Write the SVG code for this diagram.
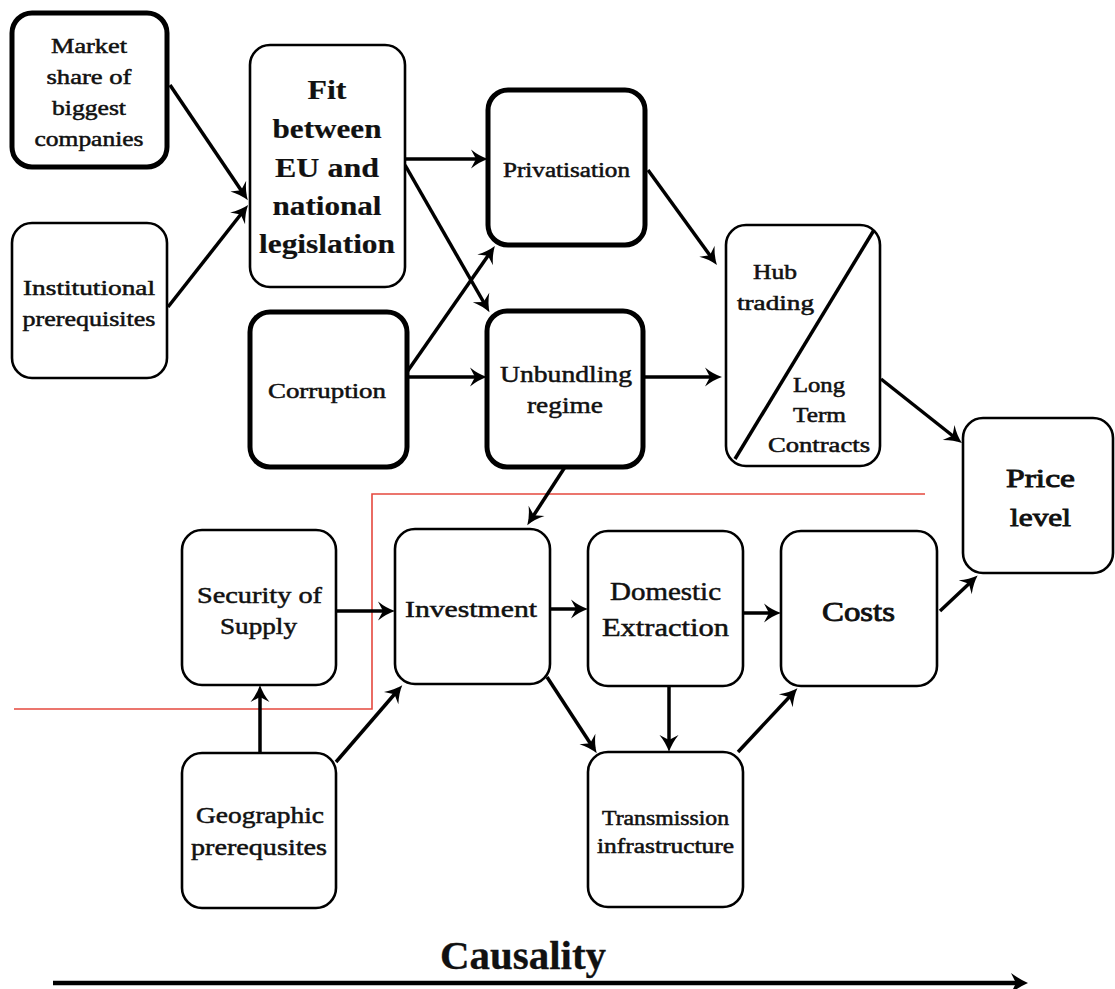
<svg xmlns="http://www.w3.org/2000/svg" width="1115" height="989" viewBox="0 0 1115 989">
<style>
.box{fill:#fff;stroke:#000;stroke-width:2.6}
.thick{fill:#fff;stroke:#000;stroke-width:5}
.t{font-family:"Liberation Serif","Times New Roman",serif;font-weight:normal;fill:#111;stroke:#111;stroke-width:0.5;text-anchor:middle}
.b{font-weight:bold;stroke-width:0.2}
.edge{fill:none;stroke:#000;stroke-width:3.5;marker-end:url(#ah)}
</style>
<defs>
<marker id="ah" markerUnits="userSpaceOnUse" markerWidth="30" markerHeight="30" refX="0" refY="0" orient="auto" overflow="visible">
<path d="M5,0 Q-4,-3 -12,-9.5 L-7,0 L-12,9.5 Q-4,3 5,0 Z" fill="#000"/>
</marker>
<marker id="ah2" markerUnits="userSpaceOnUse" markerWidth="30" markerHeight="30" refX="0" refY="0" orient="auto" overflow="visible">
<path d="M8,0 Q-1,-4 -9,-10 L-4,0 L-9,10 Q-1,4 8,0 Z" fill="#000"/>
</marker>
</defs>

<g id="redline">
<polyline points="14,709 372,709 372,494 925,494" fill="none" stroke="#e5483e" stroke-width="1.6"/>
</g>

<g id="connectors">
<path class="edge" d="M170,85 L245,196"/>
<path class="edge" d="M168,307 L245,209"/>
<path class="edge" d="M405,159 L483,159"/>
<path class="edge" d="M405,165 L487,308"/>
<path class="edge" d="M407,372 L492,250"/>
<path class="edge" d="M407,377 L482,377"/>
<path class="edge" d="M648,170 L714,261"/>
<path class="edge" d="M645,377 L717,377"/>
<path class="edge" d="M881,379 L958,440"/>
<path class="edge" d="M565,467 L530,521"/>
<path class="edge" d="M336,611 L390,611"/>
<path class="edge" d="M260,753 L260,690"/>
<path class="edge" d="M336,762 L399,689"/>
<path class="edge" d="M550,609 L583,609"/>
<path class="edge" d="M743,613 L776,613"/>
<path class="edge" d="M547,677 L594,749"/>
<path class="edge" d="M669,686 L669,747"/>
<path class="edge" d="M738,752 L794,692"/>
<path class="edge" d="M940,611 L974,579"/>
<path d="M53,983 L1020,983" fill="none" stroke="#000" stroke-width="4.5" marker-end="url(#ah2)"/>
</g>

<g id="market-share">
<rect class="thick" x="12" y="13" width="155" height="154" rx="20"/>
<text class="t" font-size="21"><tspan x="89" y="53" textLength="76" lengthAdjust="spacingAndGlyphs">Market</tspan><tspan x="89" y="84" textLength="85" lengthAdjust="spacingAndGlyphs">share of</tspan><tspan x="89" y="115" textLength="74" lengthAdjust="spacingAndGlyphs">biggest</tspan><tspan x="89" y="146" textLength="109" lengthAdjust="spacingAndGlyphs">companies</tspan></text>
</g>

<g id="institutional">
<rect class="box" x="12" y="223" width="155" height="155" rx="20"/>
<text class="t" font-size="21"><tspan x="89" y="295" textLength="132" lengthAdjust="spacingAndGlyphs">Institutional</tspan><tspan x="89" y="326" textLength="133" lengthAdjust="spacingAndGlyphs">prerequisites</tspan></text>
</g>

<g id="fit">
<rect class="box" x="250" y="45" width="155" height="242" rx="20"/>
<text class="t b" font-size="28"><tspan x="327" y="99" textLength="39" lengthAdjust="spacingAndGlyphs">Fit</tspan><tspan x="327" y="138" textLength="109" lengthAdjust="spacingAndGlyphs">between</tspan><tspan x="327" y="177" textLength="104" lengthAdjust="spacingAndGlyphs">EU and</tspan><tspan x="327" y="215" textLength="109" lengthAdjust="spacingAndGlyphs">national</tspan><tspan x="327" y="253" textLength="136" lengthAdjust="spacingAndGlyphs">legislation</tspan></text>
</g>

<g id="corruption">
<rect class="thick" x="250" y="312" width="157" height="155" rx="20"/>
<text class="t" font-size="21"><tspan x="327" y="398" textLength="118" lengthAdjust="spacingAndGlyphs">Corruption</tspan></text>
</g>

<g id="privatisation">
<rect class="thick" x="488" y="90" width="157" height="155" rx="20"/>
<text class="t" font-size="20"><tspan x="566.5" y="177" textLength="127" lengthAdjust="spacingAndGlyphs">Privatisation</tspan></text>
</g>

<g id="unbundling">
<rect class="thick" x="487" y="311" width="156" height="156" rx="20"/>
<text class="t" font-size="24"><tspan x="566" y="382" textLength="132" lengthAdjust="spacingAndGlyphs">Unbundling</tspan><tspan x="565" y="413" textLength="76" lengthAdjust="spacingAndGlyphs">regime</tspan></text>
</g>

<g id="hub-ltc">
<rect class="box" x="726" y="225" width="154" height="241" rx="20"/>
<line x1="735" y1="459" x2="874" y2="230" stroke="#000" stroke-width="3.5"/>
<text class="t" font-size="20"><tspan x="775" y="279" textLength="44" lengthAdjust="spacingAndGlyphs">Hub</tspan><tspan x="775.5" y="310" textLength="77" lengthAdjust="spacingAndGlyphs">trading</tspan><tspan x="819" y="392" textLength="52" lengthAdjust="spacingAndGlyphs">Long</tspan><tspan x="819.5" y="422" textLength="53" lengthAdjust="spacingAndGlyphs">Term</tspan><tspan x="819" y="452" textLength="102" lengthAdjust="spacingAndGlyphs">Contracts</tspan></text>
</g>

<g id="price-level">
<rect class="box" x="963" y="418" width="150" height="155" rx="20"/>
<text class="t" font-size="26" style="stroke-width:0.9"><tspan x="1040.5" y="487" textLength="69" lengthAdjust="spacingAndGlyphs">Price</tspan><tspan x="1040.5" y="526" textLength="61" lengthAdjust="spacingAndGlyphs">level</tspan></text>
</g>

<g id="security">
<rect class="box" x="182" y="530" width="154" height="155" rx="20"/>
<text class="t" font-size="23"><tspan x="259.5" y="603" textLength="125" lengthAdjust="spacingAndGlyphs">Security of</tspan><tspan x="258.5" y="634" textLength="77" lengthAdjust="spacingAndGlyphs">Supply</tspan></text>
</g>

<g id="investment">
<rect class="box" x="395" y="529" width="155" height="155" rx="20"/>
<text class="t" font-size="23"><tspan x="471" y="617" textLength="132" lengthAdjust="spacingAndGlyphs">Investment</tspan></text>
</g>

<g id="domestic">
<rect class="box" x="588" y="531" width="155" height="155" rx="20"/>
<text class="t" font-size="25"><tspan x="665.5" y="600" textLength="111" lengthAdjust="spacingAndGlyphs">Domestic</tspan><tspan x="665.5" y="636" textLength="127" lengthAdjust="spacingAndGlyphs">Extraction</tspan></text>
</g>

<g id="costs">
<rect class="box" x="781" y="531" width="156" height="155" rx="20"/>
<text class="t" font-size="28" style="stroke-width:0.9"><tspan x="858.5" y="621" textLength="73" lengthAdjust="spacingAndGlyphs">Costs</tspan></text>
</g>

<g id="geographic">
<rect class="box" x="182" y="753" width="154" height="155" rx="20"/>
<text class="t" font-size="23"><tspan x="260" y="823" textLength="128" lengthAdjust="spacingAndGlyphs">Geographic</tspan><tspan x="259" y="855" textLength="136" lengthAdjust="spacingAndGlyphs">prerequsites</tspan></text>
</g>

<g id="transmission">
<rect class="box" x="588" y="752" width="155" height="155" rx="20"/>
<text class="t" font-size="20"><tspan x="665.5" y="825" textLength="127" lengthAdjust="spacingAndGlyphs">Transmission</tspan><tspan x="665.5" y="853" textLength="137" lengthAdjust="spacingAndGlyphs">infrastructure</tspan></text>
</g>

<g id="causality">
<text class="t" font-size="40" style="font-weight:bold;stroke-width:0.3"><tspan x="523" y="969" textLength="166" lengthAdjust="spacingAndGlyphs">Causality</tspan></text>
</g>
</svg>
